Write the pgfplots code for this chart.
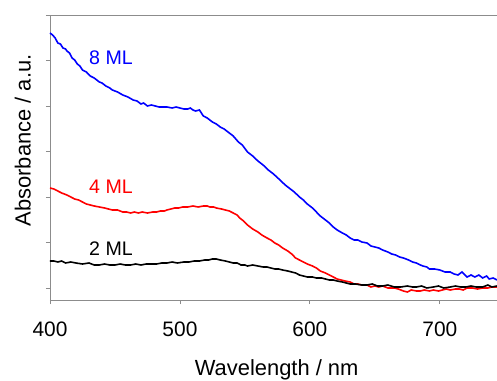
\documentclass[border=0pt]{standalone}
\usepackage{pgfplots}
\pgfplotsset{compat=1.18}
\usepackage{fontspec}
\setmainfont{Liberation Sans}
\begin{document}
\begin{tikzpicture}
\begin{axis}[
  scale only axis, width=447bp, height=285bp,
  xmin=400, xmax=744, ymin=0, ymax=285,
  separate axis lines,
  axis x line*=box, axis y line*=left,
  axis line style={draw=gray!90, line width=0.8pt, -},
  xtick={400,500,600,700}, ytick={12,57.5,103,148.5,194,239.5,285},
  yticklabels={},
  tick style={draw=gray!90, line width=0.8pt},
  tick align=outside, major tick length=4bp,
  xtick pos=bottom, ytick pos=left,
  /pgf/number format/assume math mode=true,
  /pgf/number format/set thousands separator={},
  ticklabel style={font=\fontsize{21}{23}\selectfont},
  xticklabel style={anchor=north, inner sep=0pt, yshift=-18bp},
  xlabel={Wavelength / nm}, ylabel={Absorbance / a.u.},
  label style={font=\fontsize{22}{24}\selectfont},
  xlabel style={at={(axis description cs:0.507,-0.246)}, anchor=center},
  ylabel style={at={(axis description cs:-0.061,0.56)}, anchor=center, rotate=0},
  clip=false,
]
\addplot[blue, line width=1.6pt] coordinates {
(400,267)(402,265)(404,262)(406,257)(408,256)(410,252)(412,251)(413,249)(415,247)(417,242)(419,240)(421,236)(423,234)(425,230)(428,228)(431,224)(434,222)(438,218)(440,217)(443,214)(446,212)(448,210)(452,208)(456,205)(460,203)(464,200)(467,199)(470,196)(472,197)(475,194)(478,195)(481,194)(484,193)(487,193)(490,193)(494,192)(497,193)(500,192)(503,191)(506,191)(508,192)(510,190)(512,189)(515,190)(518,184)(521,182)(525,178)(528,176)(531,173)(534,171)(538,167)(541,164)(545,158)(548,155)(552,148)(556,144)(560,139)(564,135)(568,130)(572,126)(577,120)(581,115)(585,111)(588,108)(592,103)(595,100)(598,96)(602,92)(605,88)(608,84)(612,80)(615,77)(618,73)(621,70)(625,67)(628,65)(631,62)(634,60)(637,60)(640,58)(644,57)(647,54)(650,53)(653,52)(656,50)(660,48)(663,46)(666,45)(669,43)(672,42)(676,40)(679,38)(682,37)(685,35)(687,34)(690,33)(692,31)(696,31)(700,30)(704,28)(708,28)(711,26)(714,25)(717,28)(721,23)(724,25)(727,23)(730,25)(733,22)(736,24)(738,21)(741,22)(744,20)
};
\addplot[red, line width=1.6pt] coordinates {
(400,112)(403,111)(406,109)(409,107)(413,105)(416,103)(419,101)(422,100)(425,98)(428,96)(431,95)(434,94)(438,93)(442,92)(445,91)(448,90)(452,90)(456,88)(459,88)(462,87)(465,88)(468,87)(471,88)(475,87)(479,88)(482,88)(485,89)(488,89)(490,90)(493,91)(496,92)(499,92)(502,93)(506,93)(510,94)(514,93)(518,94)(521,94)(523,93)(526,93)(528,92)(532,91)(535,90)(538,89)(541,87)(544,85)(546,82)(549,79)(552,75)(556,71)(560,68)(563,65)(567,62)(570,60)(573,57)(576,55)(579,52)(583,49)(586,46)(589,42)(592,40)(595,38)(598,36)(602,34)(605,32)(608,29)(612,27)(615,25)(618,23)(621,21)(624,20)(627,19)(631,18)(634,16)(637,16)(640,15)(644,15)(647,13)(650,14)(653,13)(656,14)(660,12)(665,12)(668,11)(672,9)(675,8)(678,10)(682,9)(685,9)(688,10)(692,9)(695,10)(699,9)(702,10)(705,11)(708,10)(712,11)(715,11)(718,10)(721,12)(725,12)(729,11)(733,12)(737,12)(740,13)(744,13)
};
\addplot[black, line width=1.6pt] coordinates {
(400,39)(403,39)(406,38)(409,39)(412,37)(416,38)(420,37)(425,36)(430,37)(434,35)(438,35)(442,36)(446,35)(450,35)(454,36)(458,35)(462,35)(466,36)(470,35)(474,36)(478,36)(482,36)(486,37)(490,37)(494,38)(498,37)(503,38)(507,38)(511,39)(515,39)(519,40)(522,40)(525,41)(528,41)(531,40)(535,39)(538,38)(541,37)(544,37)(547,35)(550,35)(552,34)(556,35)(560,34)(564,33)(567,33)(570,32)(573,31)(576,31)(579,30)(583,29)(586,28)(589,27)(592,25)(595,24)(598,23)(602,23)(605,22)(609,22)(612,21)(615,20)(618,20)(621,19)(625,18)(628,17)(631,16)(635,16)(640,15)(644,15)(648,16)(652,14)(656,14)(660,15)(665,13)(670,13)(675,14)(679,13)(682,13)(686,14)(690,12)(695,13)(699,14)(703,12)(708,13)(712,14)(716,13)(720,13)(724,14)(728,13)(733,13)(737,15)(740,13)(744,14)
};
\draw[gray!90, line width=0.8pt] (axis cs:400,285) -- (axis cs:744,285);
\node[blue, anchor=west, inner sep=0pt, font=\fontsize{19.7}{21}\selectfont] at (axis cs:430,242) {8 ML};
\node[red, anchor=west, inner sep=0pt, font=\fontsize{19.7}{21}\selectfont] at (axis cs:430,113) {4 ML};
\node[black, anchor=west, inner sep=0pt, font=\fontsize{19.7}{21}\selectfont] at (axis cs:430,51) {2 ML};
\end{axis}
\pgfresetboundingbox
\path (-50bp,-81bp) rectangle (447bp,300bp);
\end{tikzpicture}
\end{document}
